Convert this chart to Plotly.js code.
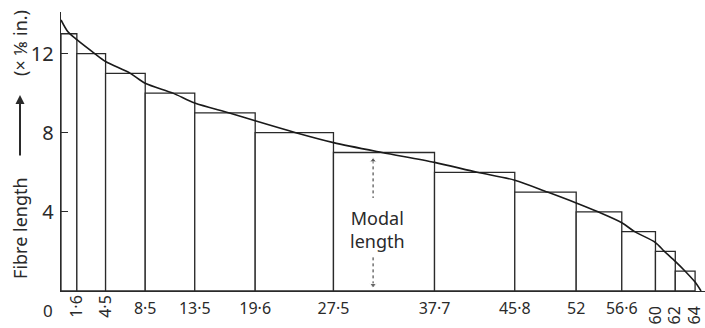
<!DOCTYPE html>
<html>
<head>
<meta charset="utf-8">
<script src="https://cdn.plot.ly/plotly-3.0.1.min.js"></script>
<style>html,body{margin:0;padding:0;background:#fff;}#chart{width:705px;height:328px;}</style>
</head>
<body>
<div id="chart"></div>
<script>
// Class boundaries along the base (cumulative count) and fibre length of each class (x 1/8 in.)
const edges = [0, 1.6, 4.5, 8.5, 13.5, 19.6, 27.5, 37.7, 45.8, 52, 56.6, 60, 62, 64];
const heights = [13, 12, 11, 10, 9, 8, 7, 6, 5, 4, 3, 2, 1];

// Smooth staple curve
const curveX = [0, 0.7, 1.6, 3.4, 4.5, 7.0, 8.5, 11.3, 13.5, 17.0, 19.6, 23.7, 27.5, 32.4, 37.7, 42.0, 45.8, 49.1, 52, 54.2, 56.6, 57.9, 60, 60.9, 62, 63.0, 64, 64.6];
const curveY = [13.7, 13.1, 12.7, 12, 11.6, 11, 10.5, 10, 9.5, 9, 8.6, 8, 7.5, 7, 6.5, 6, 5.6, 5, 4.45, 4, 3.45, 3, 2.45, 2, 1.5, 1, 0.45, 0];

// Tick labels
const flatTicks = [8.5, 13.5, 19.6, 27.5, 37.7, 45.8, 52, 56.6];
const flatTickText = ['8·5', '13·5', '19·6', '27·5', '37·7', '45·8', '52', '56·6'];
const lowTicks = [1.6, 4.5];
const lowTickText = ['1·6', '4·5'];
const endTicks = [60, 62, 64];
const endTickText = ['60', '62', '64'];
const yTicks = [4, 8, 12];
const yTickText = ['4', '8', '12'];

// Modal length marker
const modalX = 31.5;
const modalUpperY = [6.6, 4.7];
const modalLowerY = [1.7, 0.3];

const ink = '#2a2a2a';
const FONT = 'Noto Sans, DejaVu Sans, sans-serif';

const centers = heights.map((h, i) => (edges[i] + edges[i + 1]) / 2);
const widths = heights.map((h, i) => edges[i + 1] - edges[i]);

const traces = [
  {
    type: 'bar', x: centers, y: heights, width: widths,
    marker: {color: '#ffffff', line: {color: ink, width: 1.3}},
    hoverinfo: 'skip', showlegend: false
  },
  {
    type: 'scatter', mode: 'lines', x: curveX, y: curveY,
    line: {color: '#1a1a1a', width: 1.6, shape: 'spline', smoothing: 0.8},
    hoverinfo: 'skip', showlegend: false
  },
  {
    type: 'scatter', mode: 'lines+markers', x: [modalX, modalX], y: modalUpperY,
    line: {color: ink, width: 1, dash: 'dot'},
    marker: {symbol: ['triangle-up', 'circle'], size: [6, 0], color: ink},
    hoverinfo: 'skip', showlegend: false
  },
  {
    type: 'scatter', mode: 'lines+markers', x: [modalX, modalX], y: modalLowerY,
    line: {color: ink, width: 1, dash: 'dot'},
    marker: {symbol: ['circle', 'triangle-down'], size: [0, 6], color: ink},
    hoverinfo: 'skip', showlegend: false
  },
  {type: 'scatter', x: [], y: [], xaxis: 'x2', yaxis: 'y', showlegend: false},
  {type: 'scatter', x: [], y: [], xaxis: 'x3', yaxis: 'y', showlegend: false}
];

const tickFont = {family: FONT, size: 16, color: ink};

const layout = {
  width: 705, height: 328,
  margin: {l: 61, r: 0, t: 12, b: 37},
  paper_bgcolor: '#ffffff', plot_bgcolor: '#ffffff',
  showlegend: false,
  bargap: 0,
  xaxis: {
    range: [0, 65], showline: true, linecolor: ink, linewidth: 1.3,
    showgrid: false, zeroline: false, ticks: '',
    tickmode: 'array', tickvals: flatTicks, ticktext: flatTickText,
    tickangle: 0, tickfont: tickFont, ticklabelstandoff: 2
  },
  xaxis2: {
    overlaying: 'x', matches: 'x', anchor: 'y', side: 'bottom',
    showline: false, showgrid: false, zeroline: false, ticks: '',
    tickmode: 'array', tickvals: lowTicks, ticktext: lowTickText,
    tickangle: -90, tickfont: tickFont, ticklabelstandoff: 0
  },
  xaxis3: {
    overlaying: 'x', matches: 'x', anchor: 'y', side: 'bottom',
    showline: false, showgrid: false, zeroline: false, ticks: '',
    tickmode: 'array', tickvals: endTicks, ticktext: endTickText,
    tickangle: -90, tickfont: tickFont, ticklabelstandoff: 11,
    ticklabeloverflow: 'allow'
  },
  yaxis: {
    range: [0, 14.1], showline: true, linecolor: ink, linewidth: 1.3,
    showgrid: false, zeroline: false,
    ticks: 'inside', ticklen: 7, tickcolor: ink, tickwidth: 1.2,
    tickmode: 'array', tickvals: yTicks, ticktext: yTickText,
    tickfont: {family: FONT, size: 20, color: ink}, ticklabelstandoff: 2
  },
  annotations: [
    {xref: 'x', yref: 'y', x: modalX + 0.4, y: 3.1, text: 'Modal<br>length',
     showarrow: false, font: {family: FONT, size: 18, color: ink}},
    {xref: 'x', yref: 'paper', x: 0, y: 0, yanchor: 'top', xanchor: 'center', xshift: -13, yshift: -6,
     text: '0', showarrow: false, font: {family: FONT, size: 17, color: ink}},
    {xref: 'paper', yref: 'paper', x: 0, y: 0.226, xanchor: 'center', yanchor: 'middle',
     xshift: -41, textangle: -90,
     text: 'Fibre length', showarrow: false, font: {family: FONT, size: 18, color: ink}},
    {xref: 'paper', yref: 'paper', x: 0, y: 0.7025, xshift: -41, text: '',
     showarrow: true, ax: 0, ay: 62, arrowhead: 2, arrowsize: 0.9, arrowwidth: 2, arrowcolor: ink},
    {xref: 'paper', yref: 'paper', x: 0, y: 0.889, xanchor: 'center', yanchor: 'middle',
     xshift: -41, textangle: -90,
     text: '(× ⅛ in.)', showarrow: false, font: {family: FONT, size: 18, color: ink}}
  ]
};

Plotly.newPlot('chart', traces, layout, {displayModeBar: false, staticPlot: true});
</script>
</body>
</html>
